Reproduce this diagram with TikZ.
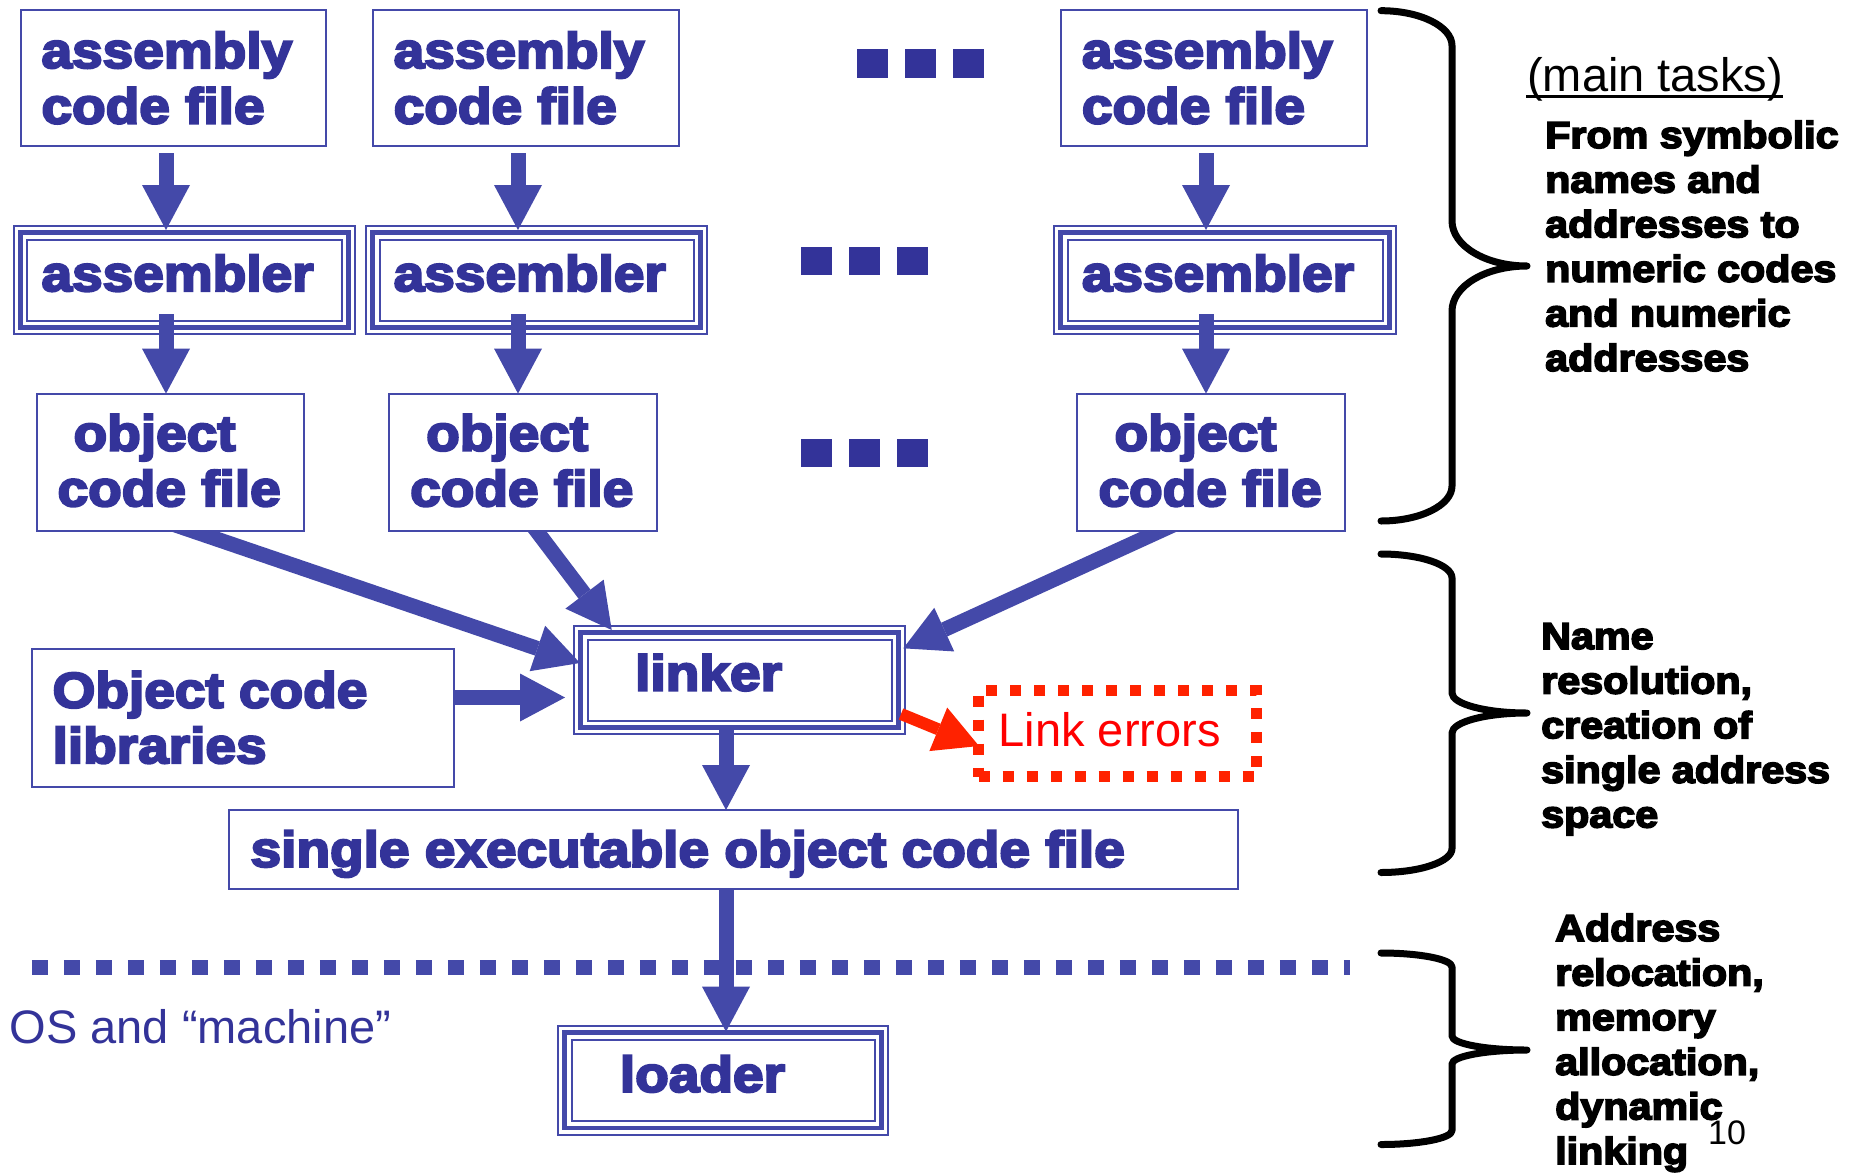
\documentclass[tikz,border=0pt]{standalone}
\usepackage{fontspec}
\setmainfont{Liberation Sans}
\newfontfamily\heavy{Liberation Sans}[BoldFeatures={FakeStretch=1.1,FakeBold=4.5}]
\usetikzlibrary{arrows.meta,calc}
\definecolor{txtblue}{HTML}{333399}
\definecolor{bblue}{HTML}{4449A9}
\definecolor{ered}{HTML}{FF2200}
\definecolor{rtxt}{HTML}{FF0000}
\tikzset{
  box/.style={draw=bblue, line width=2pt, inner sep=0pt, outer sep=0pt, anchor=north west, fill=white},
  triple/.style={box, path picture={
    \draw[bblue, line width=4.5pt] ([shift={(6.5,6.5)}]path picture bounding box.north west) rectangle ([shift={(-6.5,-6.5)}]path picture bounding box.south east);
    \draw[bblue, line width=2pt] ([shift={(13.5,13.5)}]path picture bounding box.north west) rectangle ([shift={(-13.5,-13.5)}]path picture bounding box.south east);}},
  errbox/.style={draw=ered, line width=11pt, dash pattern=on 11pt off 13pt, inner sep=0pt, outer sep=0pt, anchor=north west},
  btxt/.style={anchor=base west, inner sep=0pt, text=txtblue, font={\heavy\bfseries\fontsize{50}{55.5}\selectfont}},
  ktxt/.style={anchor=base west, inner sep=0pt, text=black, font={\heavy\bfseries\fontsize{37.5}{44.6}\selectfont}},
  rtext/.style={anchor=base west, inner sep=0pt, font={\fontsize{47}{52}\selectfont}},
  barrow/.style={draw=bblue, line width=15pt, -{Triangle[length=45pt,width=48pt,line width=0pt]}},
  rarrow/.style={draw=ered, line width=12pt, -{Triangle[length=44pt,width=47pt,line width=0pt]}},
  bracepath/.style={draw=black, line width=7pt, line cap=round, line join=round},
  dotline/.style={draw=bblue, line width=15pt, dash pattern=on 16pt off 16pt}
}
\newcommand\twol[2]{\vtop{\hbox{#1}\hbox{#2}}}
\newcommand\mybrace[5]{% ytop ymid ybot rend rmid
  \draw[bracepath] (1381,#1) .. controls (1420,#1) and (1452,{#1+0.448*#4}) .. (1452,{#1+#4})
    -- (1452,{#2-#5}) .. controls (1452,{#2-0.448*#5}) and (1485.6,#2) .. (1527,#2)
    .. controls (1485.6,#2) and (1452,{#2+0.448*#5}) .. (1452,{#2+#5})
    -- (1452,{#3-#4}) .. controls (1452,{#3-0.448*#4}) and (1420,#3) .. (1381,#3);}
\begin{document}
\begin{tikzpicture}[x=1pt,y=-1pt]
\fill[white] (0,0) rectangle (1859,1172);
\useasboundingbox (0,0) rectangle (1859,1172);

% column / row guides
\coordinate (c1) at (166,0);
\coordinate (c2) at (518,0);
\coordinate (c3) at (1206,0);
\coordinate (c4) at (726,0);
\coordinate (r1) at (0,697.5);
\coordinate (o1) at (193,531);
\coordinate (o2) at (536.7,531);
\coordinate (o3) at (1160,531);

% boxes (object code file boxes are drawn later, on top of the arrows leaving them)
\node[box, minimum width=305.3pt, minimum height=136.8pt] (a1) at (20.7,9.6) {};
\node[box, minimum width=306pt, minimum height=136.8pt] (a2) at (373,9.6) {};
\node[box, minimum width=306pt, minimum height=136.8pt] (a3) at (1060.7,9.6) {};
\node[triple, minimum width=341.2pt, minimum height=108pt] (asm1) at (13.8,226) {};
\node[triple, minimum width=341pt, minimum height=108pt] (asm2) at (366,226) {};
\node[triple, minimum width=342pt, minimum height=108pt] (asm3) at (1054,226) {};
\node[box, minimum width=421.7pt, minimum height=137.8pt] (libs) at (31.8,649) {};
\node[triple, minimum width=331pt, minimum height=108pt] (linker) at (574,626) {};
\node[errbox, minimum width=278pt, minimum height=86.5pt] (err) at (978.5,690) {};
\node[box, minimum width=1008.7pt, minimum height=79pt] (exe) at (229,810) {};
\node[triple, minimum width=330pt, minimum height=108.5pt] (loader) at (558,1026) {};

% ellipsis squares
\fill[txtblue] (857.3,49.3) rectangle (888.3,77.7);
\fill[txtblue] (905.3,49.3) rectangle (936.3,77.7);
\fill[txtblue] (953.3,49.3) rectangle (984.3,77.7);
\fill[txtblue] (801.3,246.7) rectangle (832.3,275.3);
\fill[txtblue] (849.3,246.7) rectangle (880.3,275.3);
\fill[txtblue] (897.3,246.7) rectangle (928.3,275.3);
\fill[txtblue] (801.3,438.7) rectangle (832.3,467.3);
\fill[txtblue] (849.3,438.7) rectangle (880.3,467.3);
\fill[txtblue] (897.3,438.7) rectangle (928.3,467.3);

% dotted OS line
\draw[dotline] (31.8,967) -- (1350,967);

% arrows
\draw[barrow, shorten <=7pt, shorten >=-4pt] (a1.south -| c1) -- (asm1.north -| c1);
\draw[barrow, shorten <=7pt, shorten >=-4pt] (a2.south -| c2) -- (asm2.north -| c2);
\draw[barrow, shorten <=7pt, shorten >=-4pt] (a3.south -| c3) -- (asm3.north -| c3);
\draw[barrow, shorten <=-25pt] (o1) -- ($(linker.north west)+(6,37)$);
\draw[barrow, shorten <=-25pt] (o2) -- ($(linker.north west)+(37.7,4)$);
\draw[barrow, shorten <=-25pt] (o3) -- ($(linker.north east)+(-1.7,22.3)$);
\draw[barrow, shorten >=9pt] (libs.east |- r1) -- (linker.west |- r1);
\draw[barrow, shorten <=-4.5pt] (linker.south -| c4) -- (exe.north -| c4);
\draw[barrow, shorten >=-5.6pt] (exe.south -| c4) -- (loader.north -| c4);
\draw[rarrow] ($(linker.east)+(-4,34)$) -- ($(err.west)+(0.5,12.75)$);

% object code file boxes
\node[box, minimum width=267.3pt, minimum height=137.4pt] (obj1) at (36.7,393.6) {};
\node[box, minimum width=268pt, minimum height=137.4pt] (obj2) at (389,393.6) {};
\node[box, minimum width=267.7pt, minimum height=137.4pt] (obj3) at (1077.3,393.6) {};
\draw[barrow, shorten <=-20pt] (asm1.south -| c1) -- (obj1.north -| c1);
\draw[barrow, shorten <=-20pt] (asm2.south -| c2) -- (obj2.north -| c2);
\draw[barrow, shorten <=-20pt] (asm3.south -| c3) -- (obj3.north -| c3);

% box texts
\node[btxt] (a1t) at (41.3,67.9) {\twol{assembly}{code file}};
\node[btxt] (a2t) at (393.5,67.9) {\twol{assembly}{code file}};
\node[btxt] (a3t) at (1081.7,67.9) {\twol{assembly}{code file}};
\node[btxt] (asm1t) at (41.3,291) {assembler};
\node[btxt] (asm2t) at (393.5,291) {assembler};
\node[btxt] (asm3t) at (1081.7,291) {assembler};
\node[btxt] (obj1t) at (57.4,450.6) {\twol{\hspace*{16pt}object}{code file}};
\node[btxt] (obj2t) at (410,450.6) {\twol{\hspace*{16pt}object}{code file}};
\node[btxt] (obj3t) at (1098.3,450.6) {\twol{\hspace*{16pt}object}{code file}};
\node[btxt] (libst) at (52.4,707.6) {\twol{Object code}{libraries}};
\node[btxt] (linkert) at (635,690.5) {linker};
\node[btxt] (exet) at (250.4,866.7) {single executable object code file};
\node[btxt] (loadert) at (619.7,1091.8) {loader};
\node[rtext, text=rtxt] (errt) at (998.5,746) {Link errors};
\node[rtext, text=txtblue] (ost) at (9.6,1043) {OS and “machine”};

% braces and task texts
\mybrace{10.7}{266}{521}{35}{45}
\mybrace{554}{713}{872.5}{24}{20}
\mybrace{953}{1050}{1144.5}{14}{14}
\node[rtext, text=black] (mt) at (1527,91) {(main tasks)};
\draw[line width=3.5pt] ($(mt.base west)+(-1,5.4)$) -- ($(mt.base east)+(0,5.4)$);
\node[ktxt] (t1) at (1545,148) {\vtop{\hbox{From symbolic}\hbox{names and}\hbox{addresses to}\hbox{numeric codes}\hbox{and numeric}\hbox{addresses}}};
\node[ktxt] (t2) at (1541,649) {\vtop{\hbox{Name}\hbox{resolution,}\hbox{creation of}\hbox{single address}\hbox{space}}};
\node[ktxt] (t3) at (1555,941) {\vtop{\hbox{Address}\hbox{relocation,}\hbox{memory}\hbox{allocation,}\hbox{dynamic}\hbox{linking}}};
\node[anchor=base west, inner sep=0pt, font={\fontsize{34}{36}\selectfont}] (pg) at (1708,1144) {10};
\end{tikzpicture}
\end{document}
